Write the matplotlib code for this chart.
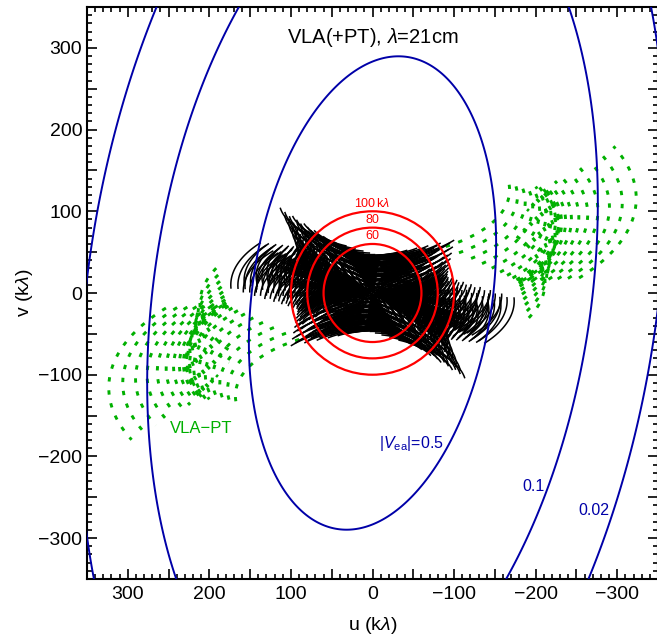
import numpy as np
import matplotlib
matplotlib.use('Agg')
import matplotlib.pyplot as plt
from matplotlib.patches import Circle
from matplotlib.ticker import MultipleLocator, FuncFormatter

plt.rcParams['font.family'] = ['Liberation Sans', 'DejaVu Sans']
plt.rcParams['mathtext.fontset'] = 'custom'
plt.rcParams['mathtext.rm'] = 'Liberation Sans'
plt.rcParams['mathtext.it'] = 'Liberation Sans:italic'

# observation
wavelength_m = 0.21
lat_deg = 34.08          # VLA site
dec_deg = -29.0          # source declination
vla_ha_rad = [-0.70, 0.0]    # hour angle range, VLA baselines
pt_ha_rad = [-0.39, 0.70]    # hour angle range, Pie Town baselines
vla_chan_scale = [0.90, 0.95, 1.0]   # relative frequency of the VLA channels

# VLA A configuration: arm azimuths (deg) and pad distances along each arm (km)
arm_az_deg = [355.0, 115.0, 236.0]
pad_dist_km = [0.48, 1.59, 3.19, 5.22, 7.66, 10.47, 13.64, 17.16, 21.0]
# Pie Town offset from array centre (km, east / north)
pt_east_km = -46.2
pt_north_km = 24.7

# |V_ea| ellipse for the 0.5 level (kλ, deg) and contour levels
ell_major = 292.0
ell_minor = 147.0
ell_tilt_deg = 8.4
vis_levels = [0.02, 0.1, 0.5]
vis_labels = [r'$|V_{\rm ea}|$=0.5', '0.1', '0.02']
vis_label_u = [-48, -197, -272]
vis_label_v = [-184, -237, -266]

# reference circles (kλ)
circle_r = [60, 80, 100]
circle_labels = ['60', '80', r'100$\,$k$\lambda$']

# antenna positions in kλ (east, north)
east = []
north = []
for az in arm_az_deg:
    for d in pad_dist_km:
        east.append(d * np.sin(np.radians(az)) / wavelength_m)
        north.append(d * np.cos(np.radians(az)) / wavelength_m)
east = np.array(east)
north = np.array(north)
pt_e = pt_east_km / wavelength_m
pt_n = pt_north_km / wavelength_m

lat = np.radians(lat_deg)
dec = np.radians(dec_deg)

def track(de, dn, ha_range):
    ha = np.linspace(ha_range[0], ha_range[1], 80)
    lx = -np.sin(lat) * dn
    ly = de
    lz = np.cos(lat) * dn
    u = np.sin(ha) * lx + np.cos(ha) * ly
    v = -np.sin(dec) * np.cos(ha) * lx + np.sin(dec) * np.sin(ha) * ly + np.cos(dec) * lz
    return u, v

fig = plt.figure(figsize=(6.57, 6.37), dpi=100)
ax = fig.add_axes([87 / 657, 58 / 637, 571 / 657, 572 / 637])

blue = '#0000a8'
red = '#ff0000'
green = '#00b000'

# VLA baselines
n = len(east)
for i in range(n):
    for j in range(i + 1, n):
        u, v = track(east[j] - east[i], north[j] - north[i], vla_ha_rad)
        for s in vla_chan_scale:
            ax.plot(s * u, s * v, color='k', lw=1.1, zorder=2)
            ax.plot(-s * u, -s * v, color='k', lw=1.1, zorder=2)

# Pie Town baselines
for i in range(n):
    u, v = track(pt_e - east[i], pt_n - north[i], pt_ha_rad)
    ax.plot(u, v, color=green, lw=2.1, ls=(0, (1.5, 3.0)), zorder=1)
    ax.plot(-u, -v, color=green, lw=2.1, ls=(0, (1.5, 3.0)), zorder=1)

# visibility contours
g = np.linspace(-420, 420, 600)
uu, vv = np.meshgrid(g, g)
t = np.radians(ell_tilt_deg)
p1 = -uu * np.sin(t) + vv * np.cos(t)
p2 = uu * np.cos(t) + vv * np.sin(t)
vis = 0.5 ** ((p1 / ell_major) ** 2 + (p2 / ell_minor) ** 2)
ax.contour(uu, vv, vis, levels=vis_levels, colors=blue, linewidths=1.4, zorder=3)
for lab, lu, lv in zip(vis_labels, vis_label_u, vis_label_v):
    ax.text(lu, lv, lab, color=blue, fontsize=11.5, ha='center', va='center')

# circles
for r, lab in zip(circle_r, circle_labels):
    ax.add_patch(Circle((0, 0), r, fill=False, ec=red, lw=1.6, zorder=4))
    ax.text(0, r + 9.5, lab, color=red, fontsize=9, ha='center', va='center', zorder=5)

ax.text(0, 313, r'VLA(+PT), $\lambda$=21cm', fontsize=14.5, ha='center', va='center')
ax.text(210, -166, 'VLA\u2212PT', color=green, fontsize=12, ha='center', va='center')

ax.set_xlim(350, -350)
ax.set_ylim(-350, 350)
ax.set_xlabel(r'u (k$\lambda$)', fontsize=14, labelpad=9)
ax.set_ylabel(r'v (k$\lambda$)', fontsize=14, labelpad=2)

fmt = FuncFormatter(lambda x, p: '' if int(round(x)) % 100 else f'{int(round(x))}'.replace('-', '\u2212'))
for axis in (ax.xaxis, ax.yaxis):
    axis.set_major_locator(MultipleLocator(50))
    axis.set_minor_locator(MultipleLocator(10))
    axis.set_major_formatter(fmt)
ax.tick_params(which='both', direction='in', top=True, right=True, labelsize=14, width=1.2)
ax.tick_params(which='major', length=7)
ax.tick_params(which='minor', length=3.5)
ax.tick_params(axis='x', pad=5)
for s in ax.spines.values():
    s.set_linewidth(1.5)

fig.savefig('out.png', dpi=100)
